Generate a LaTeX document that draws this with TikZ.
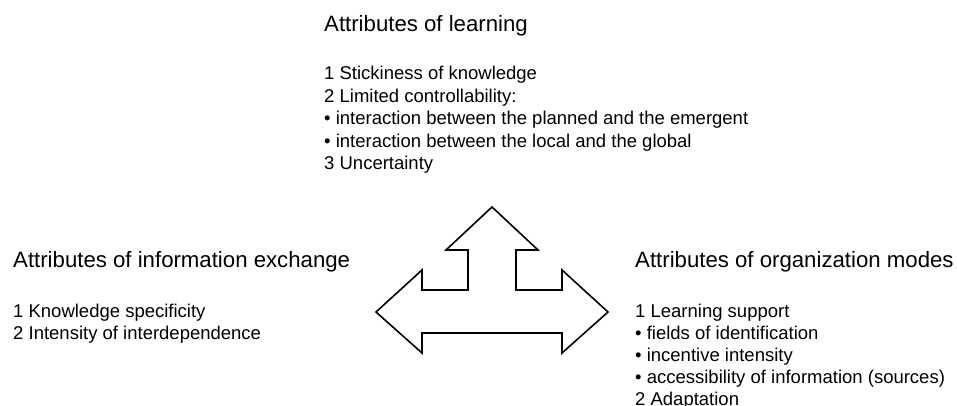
\documentclass[tikz,border=0pt]{standalone}
\usepackage{fontspec}
\setmainfont{Liberation Sans}
\usetikzlibrary{positioning}
\begin{document}
\begin{tikzpicture}[x=1pt,y=-1pt,
  head/.style={font=\fontsize{22.2}{26}\selectfont},
  item/.style={font=\fontsize{18.5}{22}\selectfont}]
\tikzstyle{every node}+=[inner sep=0pt,anchor=base west]
\useasboundingbox (0,0) rectangle (957,406);
\node [head] (lrnhead) at (324,32) {Attributes of learning};
\foreach \txt [count=\i] in {{1 Stickiness of knowledge},{2 Limited controllability:},
  {• interaction between the planned and the emergent},
  {• interaction between the local and the global},{3 Uncertainty}}
  \node [item] (lrn\i) at (324,{57.5+22.5*\i}) {\txt};
\node [head] (infhead) at (13,267) {Attributes of information exchange};
\foreach \txt [count=\i] in {{1 Knowledge specificity},{2 Intensity of interdependence}}
  \node [item] (inf\i) at (13,{295+22*\i}) {\txt};
\node [head] (orghead) at (635,267) {Attributes of organization modes};
\foreach \txt [count=\i] in {{1 Learning support},{• fields of identification},
  {• incentive intensity},{• accessibility of information (sources)},{2 Adaptation}}
  \node [item] (org\i) at (635,{295+22*\i}) {\txt};
\draw [black,line width=1.6pt] (492,207) -- (538,250) -- (516,250) -- (516,290)
  -- (562,290) -- (562,270) -- (608,312) -- (562,353) -- (562,333) -- (422,333)
  -- (422,353) -- (376,312) -- (422,270) -- (422,290) -- (468,290) -- (468,250)
  -- (446,250) -- cycle;
\end{tikzpicture}
\end{document}
